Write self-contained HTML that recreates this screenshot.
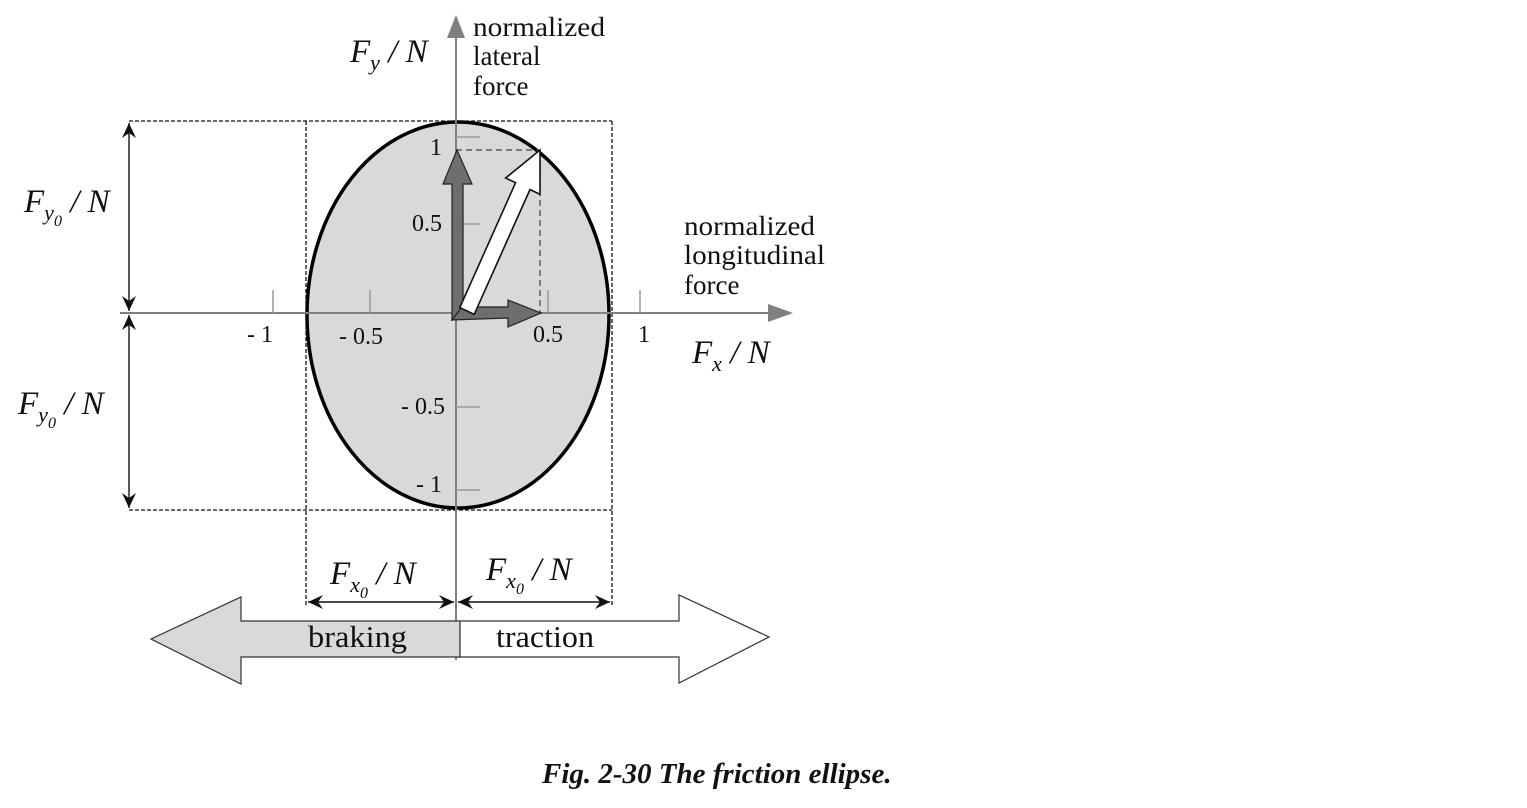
<!DOCTYPE html>
<html><head><meta charset="utf-8"><style>
html,body{margin:0;padding:0;background:#fff;}
svg{display:block;}
text{font-family:"Liberation Serif",serif;fill:#111;}
.it{font-style:italic;}
</style></head><body>
<svg width="1527" height="808" viewBox="0 0 1527 808" xmlns="http://www.w3.org/2000/svg">
<defs>
<marker id="ah" markerWidth="16" markerHeight="14" refX="15" refY="7" orient="auto-start-reverse" markerUnits="userSpaceOnUse">
<path d="M0,0 L15,7 L0,14 L5,7 Z" fill="#111"/>
</marker>
</defs>
<ellipse cx="458" cy="315" rx="151" ry="193" fill="#d9d9d9" stroke="#000" stroke-width="3.5"/>
<g stroke="#111" stroke-width="1.3" stroke-dasharray="4,2" fill="none">
<line x1="129" y1="121" x2="612" y2="121"/>
<line x1="129" y1="510" x2="612" y2="510"/>
<line x1="306" y1="121" x2="306" y2="605"/>
<line x1="612" y1="121" x2="612" y2="605"/>
</g>
<g stroke="#808080" stroke-width="2">
<line x1="120" y1="313" x2="772" y2="313"/>
<line x1="456" y1="660" x2="456" y2="35"/>
</g>
<path d="M768,304 L793,313 L768,322 Z" fill="#808080"/>
<path d="M447,38 L456,15 L465,38 Z" fill="#808080"/>
<g stroke="#999" stroke-width="1.5">
<line x1="273" y1="313" x2="273" y2="290"/>
<line x1="370" y1="313" x2="370" y2="290"/>
<line x1="548" y1="313" x2="548" y2="290"/>
<line x1="640" y1="313" x2="640" y2="290"/>
<line x1="456" y1="137" x2="480" y2="137"/>
<line x1="456" y1="224" x2="480" y2="224"/>
<line x1="456" y1="407" x2="480" y2="407"/>
<line x1="456" y1="490" x2="480" y2="490"/>
</g>
<g font-size="24">
<text x="247" y="342">- 1</text>
<text x="339" y="344">- 0.5</text>
<text x="533" y="342">0.5</text>
<text x="638" y="342">1</text>
<text x="430" y="155">1</text>
<text x="412" y="231">0.5</text>
<text x="401" y="414">- 0.5</text>
<text x="416" y="492">- 1</text>
</g>
<g stroke="#444" stroke-width="1.2" stroke-dasharray="6,4">
<line x1="456" y1="150" x2="540" y2="150"/>
<line x1="540" y1="150" x2="540" y2="313"/>
</g>
<path d="M452,320 L452,184 L443,184 L457,150 L472,184 L463,184 L463,310 Z" fill="#6e6e6e" stroke="#222" stroke-width="1.2"/>
<path d="M452,320 L462,307 L508,307 L508,300 L541,313 L508,327 L508,318 Z" fill="#6e6e6e" stroke="#222" stroke-width="1.2"/>
<path d="M459.8,307.6 L515.6,182.7 L505.6,178 L540,150 L540,194.3 L530,189.5 L474.2,314.4 Z" fill="#fff" stroke="#111" stroke-width="1.6"/>
<g stroke="#111" stroke-width="1.4">
<line x1="129" y1="123" x2="129" y2="311" marker-end="url(#ah)" marker-start="url(#ah)"/>
<line x1="129" y1="315" x2="129" y2="508" marker-end="url(#ah)" marker-start="url(#ah)"/>
<line x1="308" y1="602" x2="454" y2="602" marker-end="url(#ah)" marker-start="url(#ah)"/>
<line x1="458" y1="602" x2="610" y2="602" marker-end="url(#ah)" marker-start="url(#ah)"/>
</g>
<path d="M460,621 L241,621 L241,597 L151,639 L241,684 L241,657 L460,657 Z" fill="#d9d9d9" stroke="#333" stroke-width="1.2"/>
<path d="M460,621 L679,621 L679,595 L769,637 L679,683 L679,657 L460,657 Z" fill="#fff" stroke="#333" stroke-width="1.2"/>
<text x="308" y="647" font-size="31" textLength="99" lengthAdjust="spacingAndGlyphs">braking</text>
<text x="496" y="647" font-size="31" textLength="98" lengthAdjust="spacingAndGlyphs">traction</text>
<g font-size="27">
<text x="473" y="36" textLength="132" lengthAdjust="spacingAndGlyphs">normalized</text>
<text x="473" y="65">lateral</text>
<text x="473" y="95">force</text>
<text x="684" y="235" textLength="131" lengthAdjust="spacingAndGlyphs">normalized</text>
<text x="684" y="264" textLength="141" lengthAdjust="spacingAndGlyphs">longitudinal</text>
<text x="684" y="294">force</text>
</g>
<g font-size="33" class="it">
<text x="350" y="62">F<tspan font-size="22" dy="8">y</tspan><tspan dy="-8"> / N</tspan></text>
<text x="692" y="363">F<tspan font-size="22" dy="8">x</tspan><tspan dy="-8"> / N</tspan></text>
<text x="24" y="212">F<tspan font-size="22" dy="8">y</tspan><tspan font-size="16" dy="6">0</tspan><tspan dy="-14"> / N</tspan></text>
<text x="18" y="414">F<tspan font-size="22" dy="8">y</tspan><tspan font-size="16" dy="6">0</tspan><tspan dy="-14"> / N</tspan></text>
<text x="330" y="584">F<tspan font-size="22" dy="8">x</tspan><tspan font-size="16" dy="6">0</tspan><tspan dy="-14"> / N</tspan></text>
<text x="486" y="580">F<tspan font-size="22" dy="8">x</tspan><tspan font-size="16" dy="6">0</tspan><tspan dy="-14"> / N</tspan></text>
</g>
<text x="542" y="783" font-size="29" font-weight="bold" font-style="italic">Fig. 2-30 The friction ellipse.</text>
</svg>
</body></html>
